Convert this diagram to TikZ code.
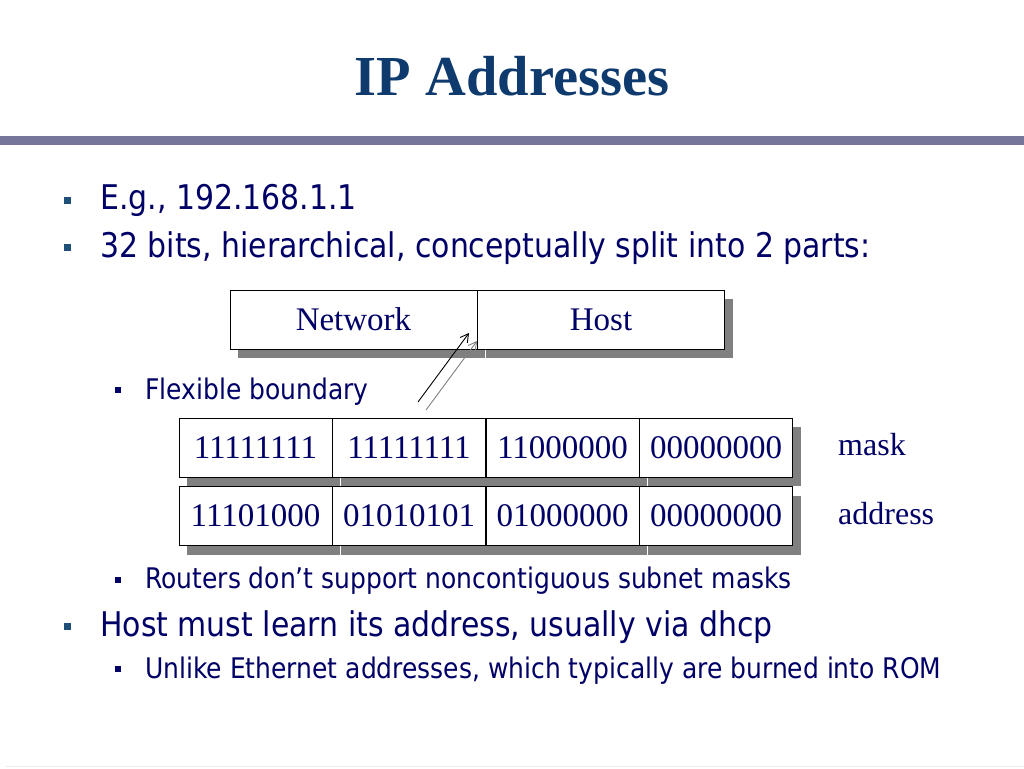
\documentclass[tikz,border=0pt]{standalone}
\usepackage{fontspec}
\setmainfont{Liberation Serif}
\setsansfont{DejaVu Sans}[FakeStretch=0.88]
\usetikzlibrary{shadows,arrows.meta}
\definecolor{navy}{HTML}{000066}
\definecolor{titleblue}{HTML}{0F3A6E}
\definecolor{barcol}{HTML}{76769A}
\definecolor{bulletteal}{HTML}{1F4E79}
\definecolor{shadowgray}{HTML}{808080}
\begin{document}
\begin{tikzpicture}[x=1pt,y=-1pt,
  titletext/.style={font=\fontsize{56.5}{62}\selectfont\bfseries\rmfamily, text=titleblue, inner sep=0pt},
  maintext/.style={font=\fontsize{34}{38}\selectfont\sffamily, text=navy, inner sep=0pt, anchor=base west},
  subtext/.style={font=\fontsize{28.4}{32}\selectfont\sffamily, text=navy, inner sep=0pt, anchor=base west},
  mainbullet/.style={fill=bulletteal, minimum size=7pt, inner sep=0pt},
  subbullet/.style={fill=navy, minimum size=6pt, inner sep=0pt},
  boxshadow/.style={drop shadow={shadow xshift=8pt, shadow yshift=-9pt, fill=shadowgray, opacity=1}},
  cell/.style={draw=black, line width=0.8pt, fill=white, boxshadow, inner sep=0pt,
    minimum width=153pt, minimum height=59pt, text=navy,
    font=\fontsize{33}{37}\selectfont\rmfamily},
  bigcell/.style={cell, minimum width=247pt},
  sidelabel/.style={font=\fontsize{32}{36}\selectfont\rmfamily, text=navy, inner sep=0pt, anchor=west},
  pointer/.style={line width=0.9pt, -{Straight Barb[length=8pt,width=9pt]}}
]
\useasboundingbox (0,0) rectangle (1024,768);
\fill[white] (0,0) rectangle (1024,768);

% title and bar
\node[titletext, anchor=base] (title) at (512,95) {IP Addresses};
\fill[barcol] (0,136) rectangle (1024,145);
\draw[black!8, line width=1pt] (6,766) -- (1024,766);

% bullets
\node[mainbullet] (b1) at (67,200) {};
\node[maintext] (t1) at (100,209) {E.g., 192.168.1.1};
\node[mainbullet] (b2) at (67,247) {};
\node[maintext] (t2) at (100,257) {32 bits, hierarchical, conceptually split into 2 parts:};

% network / host
\node[bigcell] (net) at (353.5,319.5) {Network};
\node[bigcell] (host) at (601,319.5) {Host};

\node[subbullet] (b3) at (118,390) {};
\node[subtext] (t3) at (145,399) {Flexible boundary};

% mask row
\node[cell] (m1) at (255.5,447.5) {11111111};
\node[cell] (m2) at (409,447.5) {11111111};
\node[cell] (m3) at (562.5,447.5) {11000000};
\node[cell] (m4) at (716,447.5) {00000000};
\node[sidelabel] (mask) at (838,445) {mask};

% address row
\node[cell] (a1) at (255.5,516) {11101000};
\node[cell] (a2) at (409,516) {01010101};
\node[cell] (a3) at (562.5,516) {01000000};
\node[cell] (a4) at (716,516) {00000000};
\node[sidelabel] (addr) at (838,514) {address};

% arrows
\coordinate (p1s) at (418,402);
\coordinate (p1e) at (469,333);
\coordinate (p2s) at (426,410);
\coordinate (p2e) at (477,341);
\draw[pointer, draw=gray] (p2s) -- (p2e);
\draw[pointer, draw=black] (p1s) -- (p1e);

\node[subbullet] (b4) at (118,580) {};
\node[subtext] (t4) at (145,588) {Routers don’t support noncontiguous subnet masks};
\node[mainbullet] (b5) at (67,626) {};
\node[maintext] (t5) at (100,636) {Host must learn its address, usually via dhcp};
\node[subbullet] (b6) at (118,669) {};
\node[subtext] (t6) at (145,678) {Unlike Ethernet addresses, which typically are burned into ROM};
\end{tikzpicture}
\end{document}
